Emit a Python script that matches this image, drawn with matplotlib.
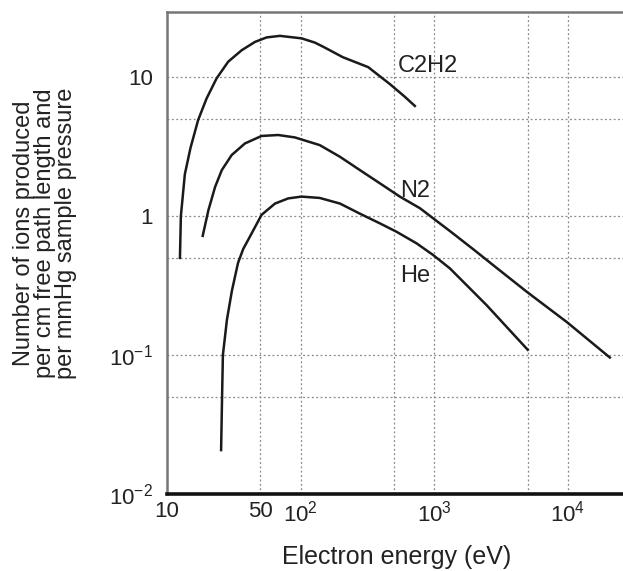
import numpy as np
import matplotlib
matplotlib.use("Agg")
import matplotlib.pyplot as plt

plt.rcParams['font.family'] = ['Liberation Sans', 'DejaVu Sans']
plt.rcParams['mathtext.fontset'] = 'custom'
plt.rcParams['mathtext.rm'] = 'Liberation Sans'
plt.rcParams['mathtext.it'] = 'Liberation Sans'

# values (electron energy in eV, ions per cm per mmHg)
c2h2_e = [12.5, 12.7, 13.6, 15.0, 17.1, 19.8, 23.5, 28.7, 36.2, 45.5, 55.7, 70, 101.6, 128, 150, 207, 320, 466, 600, 716]
c2h2_v = [0.5, 1.0, 2.0, 3.1, 4.91, 7.03, 9.79, 12.9, 15.6, 17.9, 19.3, 19.8, 19.0, 17.7, 16.4, 13.9, 11.8, 8.9, 7.24, 6.2]

n2_e = [18.5, 20.4, 22.9, 25.7, 30.5, 38.3, 51, 68, 90.6, 139, 197, 278, 392, 553, 780, 1100, 1310, 1945, 3000, 5000, 9800, 20600]
n2_v = [0.72, 1.1, 1.62, 2.14, 2.75, 3.33, 3.77, 3.83, 3.68, 3.24, 2.67, 2.14, 1.72, 1.38, 1.14, 0.886, 0.78, 0.58, 0.416, 0.282, 0.173, 0.096]

he_e = [25.4, 25.8, 26.2, 28.1, 30.6, 34, 37.2, 43, 51, 64.3, 80.8, 101.6, 139, 197, 278, 392, 522, 738, 982, 1310, 2470, 5010]
he_v = [0.0207, 0.047, 0.1, 0.18, 0.29, 0.46, 0.58, 0.75, 1.02, 1.23, 1.34, 1.38, 1.35, 1.23, 1.04, 0.886, 0.771, 0.636, 0.524, 0.42, 0.228, 0.109]

x_ticks = [10, 50, 100, 1000, 10000]
x_tick_labels = ['10', '50', r'$10^2$', r'$10^3$', r'$10^4$']
y_ticks = [0.01, 0.1, 1, 10]
y_tick_labels = [r'$10^{-2}$', r'$10^{-1}$', '1', '10']
x_grid = [50, 100, 500, 1000, 5000, 10000]
y_grid = [0.05, 0.1, 0.5, 1, 5, 10]

fig = plt.figure(figsize=(6.23, 5.71), dpi=100)
ax = fig.add_axes([167 / 623, 77 / 571, 461 / 623, 482 / 571])
ax.set_xscale('log')
ax.set_yscale('log')
ax.set_xlim(10, 10 ** 4.45)
ax.set_ylim(0.01, 29.4)

for g in x_grid:
    ax.axvline(g, color='#888888', lw=0.9, ls=(0, (1.5, 2)), zorder=0)
for g in y_grid:
    ax.axhline(g, color='#888888', lw=0.9, ls=(0, (1.5, 2)), zorder=0)

line_kw = dict(color='#1a1a1a', lw=1.8)
ax.plot(c2h2_e, c2h2_v, **line_kw)
ax.plot(n2_e, n2_v, **line_kw)
ax.plot(he_e, he_v, **line_kw)

ax.text(535, 10.9, 'C2H2', fontsize=17, ha='left', va='baseline', color='#222222')
ax.text(553, 1.37, 'N2', fontsize=17, ha='left', va='baseline', color='#222222')
ax.text(553, 0.334, 'He', fontsize=17, ha='left', va='baseline', color='#222222')

ax.set_xticks(x_ticks)
ax.set_xticklabels(x_tick_labels)
ax.set_yticks(y_ticks)
ax.set_yticklabels(y_tick_labels)
ax.xaxis.set_minor_locator(matplotlib.ticker.NullLocator())
ax.yaxis.set_minor_locator(matplotlib.ticker.NullLocator())
ax.tick_params(axis='both', length=0, labelsize=16, colors='#222222')
ax.tick_params(axis='x', pad=5)
ax.tick_params(axis='y', pad=10)

ax.spines['left'].set_color('#777777')
ax.spines['left'].set_linewidth(1.8)
ax.spines['top'].set_color('#777777')
ax.spines['top'].set_linewidth(1.8)
ax.spines['right'].set_visible(False)
ax.spines['bottom'].set_color('#111111')
ax.spines['bottom'].set_linewidth(2.6)

fig.text(397 / 623, 1 - 557 / 571, 'Electron energy (eV)', fontsize=18,
         ha='center', va='center', color='#222222')
fig.text(45 / 623, 1 - 233 / 571,
         'Number of ions produced\nper cm free path length and\nper mmHg sample pressure',
         rotation=90, ha='center', va='center', multialignment='center',
         fontsize=17, color='#222222', linespacing=0.93)

fig.savefig('out.png', dpi=100)
